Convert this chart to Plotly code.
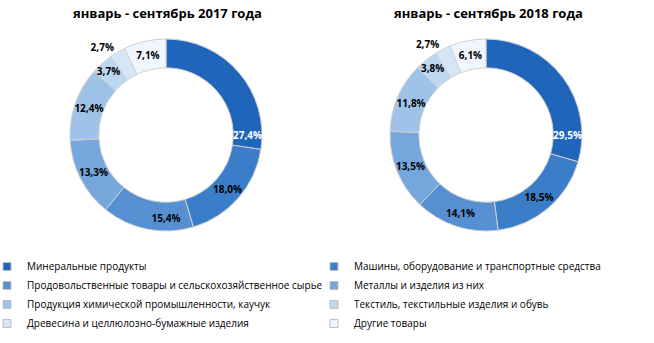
import plotly.graph_objects as go

categories = [
    "Минеральные продукты",
    "Машины, оборудование и транспортные средства",
    "Продовольственные товары и сельскохозяйственное сырье",
    "Металлы и изделия из них",
    "Продукция химической промышленности, каучук",
    "Текстиль, текстильные изделия и обувь",
    "Древесина и целлюлозно-бумажные изделия",
    "Другие товары",
]
values_2017 = [27.4, 18.0, 15.4, 13.3, 12.4, 3.7, 2.7, 7.1]
values_2018 = [29.5, 18.5, 14.1, 13.5, 11.8, 3.8, 2.7, 6.1]
titles = ["январь - сентябрь 2017 года", "январь - сентябрь 2018 года"]

colors = ["#1f66ba", "#3a7ec9", "#5690d3", "#76a7dc", "#9fc3e8", "#bdd7f1", "#d5e6f7", "#eff6fd"]
text_colors = ["white"] + ["black"] * 7
positions = ["inside"] * 6 + ["outside", "inside"]
# base sizes; uniformtext below renders every label at 10 px
text_sizes = [6] + [10] * 7

W, H = 654, 343
FONT = "Open Sans"

def fmt(vals):
    return ["<b>" + f"{v:.1f}".replace(".", ",") + "%</b>" for v in vals]

def domain(cx, cy, r):
    return dict(x=[(cx - r) / W, (cx + r) / W], y=[(H - cy - r) / H, (H - cy + r) / H])

fig = go.Figure()
for vals, (cx, cy) in [(values_2017, (166, 135)), (values_2018, (486, 135))]:
    fig.add_trace(go.Pie(
        labels=categories, values=vals, text=fmt(vals), textinfo="text",
        sort=False, direction="clockwise", rotation=0, hole=0.7,
        marker=dict(colors=colors, line=dict(color="#d0d0d0", width=1)),
        textposition=positions, insidetextorientation="horizontal",
        textfont=dict(family=FONT, size=text_sizes, color=text_colors),
        outsidetextfont=dict(family=FONT, size=10, color="black"),
        domain=domain(cx, cy, 96), showlegend=False, hoverinfo="label+percent",
    ))

# legend entries (two columns, filled row by row like the reference)
for i, (cat, col) in enumerate(zip(categories, colors)):
    fig.add_trace(go.Scatter(
        x=[None], y=[None], mode="markers", name=cat,
        marker=dict(symbol="square", size=8, color=col, line=dict(color="#bfbfbf", width=1)),
        legend="legend" if i % 2 == 0 else "legend2", showlegend=True, hoverinfo="skip",
    ))

for t, cx in zip(titles, [167, 488]):
    fig.add_annotation(text=f"<b>{t}</b>", x=cx / W, y=1 - 13 / H, xref="paper", yref="paper",
                       showarrow=False, font=dict(family=FONT, size=13, color="black"),
                       xanchor="center", yanchor="middle")

legend_common = dict(orientation="v", yanchor="top", xanchor="left", traceorder="normal",
                     font=dict(family=FONT, size=10, color="black"), itemwidth=30,
                     tracegroupgap=0, bgcolor="rgba(0,0,0,0)")
fig.update_layout(
    width=W, height=H, margin=dict(l=0, r=0, t=0, b=0, autoexpand=False),
    paper_bgcolor="white", plot_bgcolor="white",
    uniformtext=dict(minsize=10, mode="show"),
    xaxis=dict(visible=False), yaxis=dict(visible=False),
    legend=dict(x=-13 / W, y=1 - 252 / H, **legend_common),
    legend2=dict(x=314 / W, y=1 - 252 / H, **legend_common),
)
fig.write_html("out.html")
